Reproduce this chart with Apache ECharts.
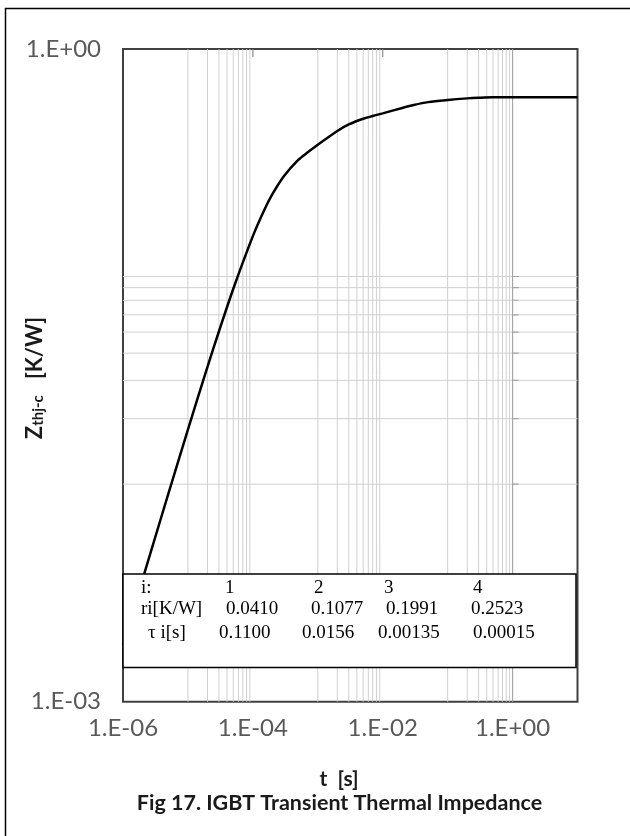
<!DOCTYPE html>
<html>
<head>
<meta charset="utf-8">
<script src="https://cdn.jsdelivr.net/npm/echarts@6/dist/echarts.min.js"></script>
<style>
  html, body { margin: 0; padding: 0; background: #fff; }
  #chart { width: 630px; height: 836px; }
</style>
</head>
<body>
<div id="chart"></div>
<script>
// transient thermal impedance
const timeS = [1e-6, 2e-6, 3e-6, 5e-6, 1e-5, 2e-5, 3e-5, 5e-5, 1e-4, 1.5e-4, 2e-4, 3e-4, 5e-4, 7e-4,
  1e-3, 2e-3, 3e-3, 5e-3, 7e-3, 1e-2, 2e-2, 3e-2, 5e-2, 0.1, 0.2, 0.3, 0.5, 1, 10];
const zth = [0.00183, 0.00365, 0.00546, 0.00904, 0.0178, 0.0346, 0.0503, 0.0791, 0.138, 0.182, 0.215, 0.260, 0.309, 0.335,
  0.363, 0.420, 0.450, 0.478, 0.492, 0.506, 0.536, 0.553, 0.570, 0.583, 0.593, 0.597, 0.600, 0.600, 0.600];

// minor grid lines (excel style, only every other decade on x)
const xMinorGrid = [1e-5, 2e-5, 3e-5, 4e-5, 5e-5, 6e-5, 7e-5, 8e-5, 9e-5,
  1e-3, 2e-3, 3e-3, 4e-3, 5e-3, 6e-3, 7e-3, 8e-3, 9e-3,
  0.1, 0.2, 0.3, 0.4, 0.5, 0.6, 0.7, 0.8, 0.9];
const yMinorGrid = [0.01, 0.02, 0.03, 0.04, 0.05, 0.06, 0.07, 0.08, 0.09];
const xTopTicks = [1e-4, 1e-2];

// foster model table
const tableHead = ['i:', '1', '2', '3', '4'];
const tableR = ['ri[K/W]', '0.0410', '0.1077', '0.1991', '0.2523'];
const tableTau = ['\u03c4 i[s]', '0.1100', '0.0156', '0.00135', '0.00015'];

const X_MIN = 1e-6, X_MAX = 10, Y_MIN = 1e-3, Y_MAX = 1;

const sansFont = 'Lato, "Noto Sans", sans-serif';
const serifFont = '"Liberation Serif", "DejaVu Serif", serif';

function fmtExp(v) {
  let e = Math.round(Math.log10(v));
  return '1.E' + (e < 0 ? '-' : '+') + String(Math.abs(e)).padStart(2, '0');
}

// one short line series per grid line / tick
function seg(p, q, color, width) {
  return {
    type: 'line',
    data: [p, q],
    z: 1,
    silent: true,
    showSymbol: false,
    symbol: 'none',
    lineStyle: { color: color, width: width },
    emphasis: { disabled: true }
  };
}

let chartDom = document.getElementById('chart');
let myChart = echarts.init(chartDom);
let option;

let series = [];
xMinorGrid.forEach(v => series.push(seg([v, Y_MIN], [v, Y_MAX], '#d0d0d0', 1)));
yMinorGrid.forEach(v => series.push(seg([X_MIN, v], [X_MAX, v], '#d0d0d0', 1)));
// y axis crosses at x = 1 (excel default for log axes)
series.push(seg([1, Y_MIN], [1, Y_MAX], '#a6a6a6', 1.2));
yMinorGrid.forEach(v => series.push(seg([1, v], [1.24, v], '#a6a6a6', 1.2)));
xTopTicks.forEach(v => series.push(seg([v, 1], [v, 0.92], '#8c8c8c', 1.2)));

series.push({
  name: 'Zthj-c',
  type: 'line',
  z: 5,
  smooth: 0.3,
  showSymbol: false,
  lineStyle: { color: '#000', width: 2.5 },
  data: timeS.map((t, i) => [t, zth[i]])
});

// table texts
const colX = [
  [141, 225, 314, 384, 473],
  [141, 226, 311, 386, 471],
  [148, 219, 302, 378, 473]
];
const rowY = [588, 609, 633];
let tableTexts = [];
[tableHead, tableR, tableTau].forEach((row, r) => {
  row.forEach((s, c) => {
    tableTexts.push({
      type: 'text',
      x: colX[r][c],
      y: rowY[r],
      z: 21,
      style: {
        text: s,
        fill: '#000',
        font: '19px ' + serifFont,
        textAlign: 'left',
        textVerticalAlign: 'middle'
      }
    });
  });
});

option = {
  animation: false,
  grid: {
    left: 123,
    top: 49,
    width: 454.5,
    height: 652.7,
    show: true,
    borderColor: '#404040',
    borderWidth: 2
  },
  xAxis: {
    type: 'log',
    logBase: 10,
    min: X_MIN,
    max: X_MAX,
    axisLine: { show: false },
    axisTick: { show: false },
    splitLine: { show: false },
    axisLabel: {
      margin: 15,
      color: '#595959',
      fontSize: 24,
      fontFamily: sansFont,
      formatter: function (v) {
        let e = Math.round(Math.log10(v));
        return (e % 2 === 0 && e <= 0) ? fmtExp(v) : '';
      }
    }
  },
  yAxis: {
    type: 'log',
    logBase: 10,
    min: Y_MIN,
    max: Y_MAX,
    axisLine: { show: false },
    axisTick: { show: false },
    splitLine: { show: false },
    axisLabel: {
      margin: 22,
      color: '#595959',
      fontSize: 24,
      fontFamily: sansFont,
      formatter: function (v) {
        let e = Math.round(Math.log10(v));
        return (e === 0 || e === -3) ? fmtExp(v) : '';
      }
    }
  },
  series: series,
  graphic: [
    {
      type: 'rect',
      z: 30,
      shape: { x: 5.5, y: 8.5, width: 700, height: 900 },
      style: { fill: 'none', stroke: '#000', lineWidth: 1.5 }
    },
    {
      type: 'rect',
      z: 20,
      shape: { x: 123, y: 574, width: 453, height: 93.5 },
      style: { fill: '#fff', stroke: '#000', lineWidth: 1.5 }
    },
    ...tableTexts,
    {
      type: 'text',
      x: 35,
      y: 378,
      rotation: Math.PI / 2,
      style: {
        text: '{z|Z}{s|thj-c}{u|   [K/W]}',
        textAlign: 'center',
        textVerticalAlign: 'middle',
        rich: {
          z: { fontSize: 22, fontWeight: 'bold', fontFamily: sansFont, fill: '#1a1a1a', verticalAlign: 'middle' },
          s: { fontSize: 15, fontWeight: 'bold', fontFamily: sansFont, fill: '#1a1a1a', verticalAlign: 'bottom' },
          u: { fontSize: 22, fontWeight: 'bold', fontFamily: sansFont, fill: '#1a1a1a', verticalAlign: 'middle' }
        }
      }
    },
    {
      type: 'text',
      x: 339,
      y: 779,
      style: {
        text: 't  [s]',
        font: 'bold 21px ' + sansFont,
        fill: '#1a1a1a',
        textAlign: 'center',
        textVerticalAlign: 'middle'
      }
    },
    {
      type: 'text',
      x: 339.5,
      y: 803,
      style: {
        text: 'Fig 17. IGBT Transient Thermal Impedance',
        font: 'bold 21.5px ' + sansFont,
        fill: '#1a1a1a',
        textAlign: 'center',
        textVerticalAlign: 'middle'
      }
    }
  ]
};

option && myChart.setOption(option);
</script>
</body>
</html>
